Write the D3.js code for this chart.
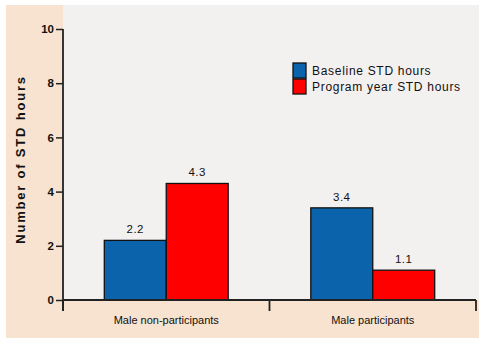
<!DOCTYPE html>
<html>
<head>
<meta charset="utf-8">
<script src="https://cdn.jsdelivr.net/npm/d3@7"></script>
<style>
  html, body { margin: 0; padding: 0; background: #ffffff; }
  svg { display: block; }
  text { font-family: "Liberation Sans", Arial, sans-serif; fill: #111; }
</style>
</head>
<body>
<svg id="chart" width="479" height="338"></svg>
<script>
// Groups and series
const categories = ["Male non-participants", "Male participants"];
const seriesNames = ["Baseline STD hours", "Program year STD hours"];
const baseline = [2.2, 3.4];
const programYear = [4.3, 1.1];
const yTicks = [0, 2, 4, 6, 8, 10];
const seriesColors = ["#0a63ab", "#ff0000"];

const svg = d3.select("#chart");
const W = 479, H = 338;
const margin = { left: 63, right: 3, top: 29, bottom: 38 };
const plotTop = 5;

// Page backgrounds: beige frame and pale plot panel
svg.append("rect").attr("x", 6).attr("y", 5).attr("width", W - 6).attr("height", H - 5)
  .attr("fill", "#f7e3d0");
svg.append("rect").attr("x", margin.left).attr("y", plotTop)
  .attr("width", W - margin.left).attr("height", H - margin.bottom - plotTop)
  .attr("fill", "#f3f0f0");

const x0 = d3.scaleBand().domain(categories)
  .range([margin.left, W - margin.right]).paddingInner(0).paddingOuter(0);
const barW = x0.bandwidth() * 0.30;
const x1 = d3.scaleBand().domain(seriesNames)
  .range([x0.bandwidth() / 2 - barW, x0.bandwidth() / 2 + barW]).padding(0);
const y = d3.scaleLinear().domain([0, 10]).range([H - margin.bottom, margin.top]);

const rows = categories.map((c, i) => ({
  cat: c,
  vals: [
    { s: seriesNames[0], v: baseline[i], color: seriesColors[0] },
    { s: seriesNames[1], v: programYear[i], color: seriesColors[1] }
  ]
}));

// Bars
const g = svg.append("g");
const groups = g.selectAll("g.grp").data(rows).enter().append("g")
  .attr("transform", d => `translate(${x0(d.cat)},0)`);
groups.selectAll("rect").data(d => d.vals).enter().append("rect")
  .attr("x", d => x1(d.s))
  .attr("y", d => y(d.v))
  .attr("width", x1.bandwidth())
  .attr("height", d => y(0) - y(d.v))
  .attr("fill", d => d.color)
  .attr("stroke", "#111")
  .attr("stroke-width", 1.3);

// Value labels above bars
groups.selectAll("text.val").data(d => d.vals).enter().append("text")
  .attr("x", d => x1(d.s) + x1.bandwidth() / 2)
  .attr("y", d => y(d.v) - 7)
  .attr("text-anchor", "middle")
  .attr("font-size", 11.5)
  .attr("letter-spacing", 0.5)
  .text(d => d.v.toFixed(1));

// Y axis
const yAxis = d3.axisLeft(y).tickValues(yTicks).tickSize(7).tickPadding(2).tickFormat(d3.format("d"));
const ya = svg.append("g").attr("transform", `translate(${margin.left},0)`).call(yAxis);
ya.select(".domain").remove();
ya.selectAll(".tick line").attr("stroke", "#222").attr("stroke-width", 1.5);
ya.selectAll(".tick text").attr("font-size", 11.5).attr("font-weight", "bold")
  .attr("fill", "#222").style("font-family", "Liberation Sans, Arial, sans-serif");
svg.append("line").attr("x1", margin.left).attr("x2", margin.left)
  .attr("y1", y(10)).attr("y2", y(0) + 11)
  .attr("stroke", "#222").attr("stroke-width", 1.8);

// X axis with group separator ticks
const xa = svg.append("g").attr("transform", `translate(0,${y(0)})`);
xa.append("line").attr("x1", margin.left).attr("x2", W - margin.right)
  .attr("stroke", "#222").attr("stroke-width", 1.8);
const edges = categories.map(c => x0(c)).concat([x0(categories[categories.length - 1]) + x0.bandwidth()]);
xa.selectAll("line.sep").data(edges).enter().append("line")
  .attr("x1", d => d).attr("x2", d => d).attr("y1", 0).attr("y2", 11)
  .attr("stroke", "#222").attr("stroke-width", 1.8);
xa.selectAll("text.cat").data(categories).enter().append("text")
  .attr("x", d => x0(d) + x0.bandwidth() / 2)
  .attr("y", 24)
  .attr("text-anchor", "middle")
  .attr("font-size", 11)
  .text(d => d);

// Y axis title
svg.append("text")
  .attr("transform", `translate(25,${(y(0) + y(10)) / 2 - 5}) rotate(-90)`)
  .attr("text-anchor", "middle")
  .attr("font-size", 13)
  .attr("font-weight", "bold")
  .attr("letter-spacing", 1.8)
  .text("Number of STD hours");

// Legend
const lg = svg.append("g").attr("transform", "translate(293,63)");
const items = lg.selectAll("g").data(seriesNames).enter().append("g")
  .attr("transform", (d, i) => `translate(0,${i * 16})`);
items.append("rect").attr("width", 13).attr("height", 15)
  .attr("fill", (d, i) => seriesColors[i]).attr("stroke", "#111").attr("stroke-width", 1.3);
items.append("text").attr("x", 19).attr("y", 12)
  .attr("font-size", 12)
  .attr("letter-spacing", 0.7)
  .text(d => d);
</script>
</body>
</html>
